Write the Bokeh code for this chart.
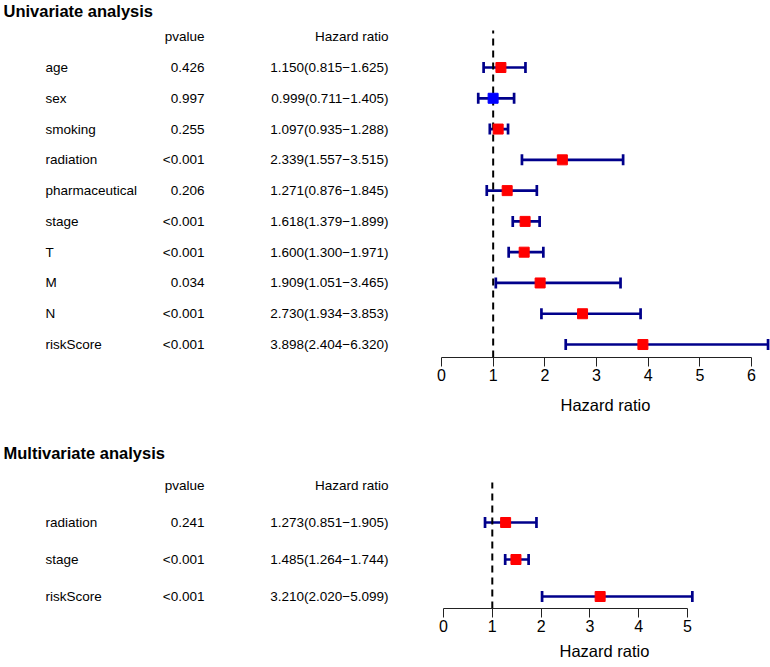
from bokeh.plotting import figure
from bokeh.models import Range1d, ColumnDataSource, Whisker, TeeHead, FixedTicker, Title
from bokeh.layouts import column
from bokeh.core.properties import value
from bokeh.embed import file_html
from bokeh.resources import INLINE

# ---- Univariate analysis data ----
uni_names = ["age", "sex", "smoking", "radiation", "pharmaceutical",
             "stage", "T", "M", "N", "riskScore"]
uni_pvalue = ["0.426", "0.997", "0.255", "<0.001", "0.206",
              "<0.001", "<0.001", "0.034", "<0.001", "<0.001"]
uni_hr = [1.150, 0.999, 1.097, 2.339, 1.271, 1.618, 1.600, 1.909, 2.730, 3.898]
uni_lo = [0.815, 0.711, 0.935, 1.557, 0.876, 1.379, 1.300, 1.051, 1.934, 2.404]
uni_hi = [1.625, 1.405, 1.288, 3.515, 1.845, 1.899, 1.971, 3.465, 3.853, 6.320]
uni_ticks = [0, 1, 2, 3, 4, 5, 6]

# ---- Multivariate analysis data ----
multi_names = ["radiation", "stage", "riskScore"]
multi_pvalue = ["0.241", "<0.001", "<0.001"]
multi_hr = [1.273, 1.485, 3.210]
multi_lo = [0.851, 1.264, 2.020]
multi_hi = [1.905, 1.744, 5.099]
multi_ticks = [0, 1, 2, 3, 4, 5]

FONT = "Liberation Sans"
W = 770
MINUS = "\u2212"
BAR = "#00008B"


def panel(title, names, pvals, hr, lo, hi, ticks, height, bottom_border,
          first_row_px, spacing, zero_px, unit_px, title_px, dash_top_px,
          label_left_px, label_standoff):
    n = len(names)
    frame_h = height - bottom_border
    last_row_px = first_row_px + (n - 1) * spacing
    y_end = 1 + last_row_px / spacing
    y_start = y_end - frame_h / spacing

    def ypx(px):
        return y_end - px / spacing

    def xpx(px):
        return (px - zero_px) / unit_px

    p = figure(width=W, height=height,
               x_range=Range1d(xpx(0), xpx(W)),
               y_range=Range1d(y_start, y_end),
               output_backend="svg", toolbar_location=None,
               y_axis_location=None,
               min_border_left=0, min_border_right=0,
               min_border_top=0, min_border_bottom=bottom_border)
    p.grid.visible = False
    p.outline_line_color = None
    p.background_fill_color = "white"
    p.border_fill_color = "white"

    rows = list(range(n, 0, -1))
    hr_txt = [f"{h:.3f}({l:.3f}{MINUS}{u:.3f})" for h, l, u in zip(hr, lo, hi)]
    colors = ["#FF0000" if h > 1 else "#0000FF" for h in hr]

    # title
    p.text(x=[xpx(3)], y=[ypx(title_px)], text=[title],
           text_font=value(FONT), text_font_size="16.5px",
           text_font_style="bold", text_align="left", text_baseline="middle",
           text_color="black")
    # headers
    hy = n + 1
    p.text(x=[xpx(204)], y=[hy], text=["pvalue"], text_font=value(FONT),
           text_font_size="13.5px", text_align="right", text_baseline="middle",
           text_color="black")
    p.text(x=[xpx(388)], y=[hy], text=["Hazard ratio"], text_font=value(FONT),
           text_font_size="13.5px", text_align="right", text_baseline="middle",
           text_color="black")
    # table
    p.text(x=[xpx(45)] * n, y=rows, text=names, text_font=value(FONT),
           text_font_size="13.5px", text_align="left", text_baseline="middle",
           text_color="black")
    p.text(x=[xpx(204)] * n, y=rows, text=pvals, text_font=value(FONT),
           text_font_size="13.5px", text_align="right", text_baseline="middle",
           text_color="black")
    p.text(x=[xpx(388)] * n, y=rows, text=hr_txt, text_font=value(FONT),
           text_font_size="13.5px", text_align="right", text_baseline="middle",
           text_color="black")

    # reference line at HR = 1
    p.segment(x0=[1], y0=[y_start], x1=[1], y1=[ypx(dash_top_px)],
              line_color="black", line_width=2, line_dash="7 5")

    src = ColumnDataSource(dict(y=rows, hr=hr, lo=lo, hi=hi, c=colors))
    wh = Whisker(source=src, base="y", lower="lo", upper="hi",
                 dimension="width", line_color=BAR, line_width=2.7,
                 lower_head=TeeHead(size=11, line_color=BAR, line_width=2.7),
                 upper_head=TeeHead(size=11, line_color=BAR, line_width=2.7))
    p.add_layout(wh)
    p.scatter(x="hr", y="y", source=src, marker="square", size=10,
              fill_color="c", line_color="c")

    ax = p.xaxis[0]
    ax.ticker = FixedTicker(ticks=ticks)
    ax.bounds = (ticks[0], ticks[-1])
    ax.minor_tick_line_color = None
    ax.major_tick_in = 0
    ax.major_tick_out = 9
    ax.axis_line_color = "#222222"
    ax.major_tick_line_color = "#222222"
    ax.axis_line_width = 1
    ax.major_label_standoff = 2
    ax.major_label_text_font = FONT
    ax.major_label_text_font_size = "16px"
    ax.major_label_text_color = "black"

    lab = Title(text="Hazard ratio", align="left", offset=label_left_px,
                text_font=FONT, text_font_size="16.5px",
                text_font_style="normal", text_color="black",
                standoff=label_standoff)
    p.add_layout(lab, "below")
    return p


p1 = panel("Univariate analysis", uni_names, uni_pvalue, uni_hr, uni_lo, uni_hi,
           uni_ticks, height=428, bottom_border=71, first_row_px=67,
           spacing=30.78, zero_px=441, unit_px=51.67, title_px=10,
           dash_top_px=30, label_left_px=560, label_standoff=20)
p2 = panel("Multivariate analysis", multi_names, multi_pvalue, multi_hr,
           multi_lo, multi_hi, multi_ticks, height=239, bottom_border=59,
           first_row_px=94, spacing=37, zero_px=443, unit_px=48.8,
           title_px=24, dash_top_px=54, label_left_px=559, label_standoff=11)

layout = column(p1, p2)
open("out.html", "w").write(file_html(layout, INLINE))
